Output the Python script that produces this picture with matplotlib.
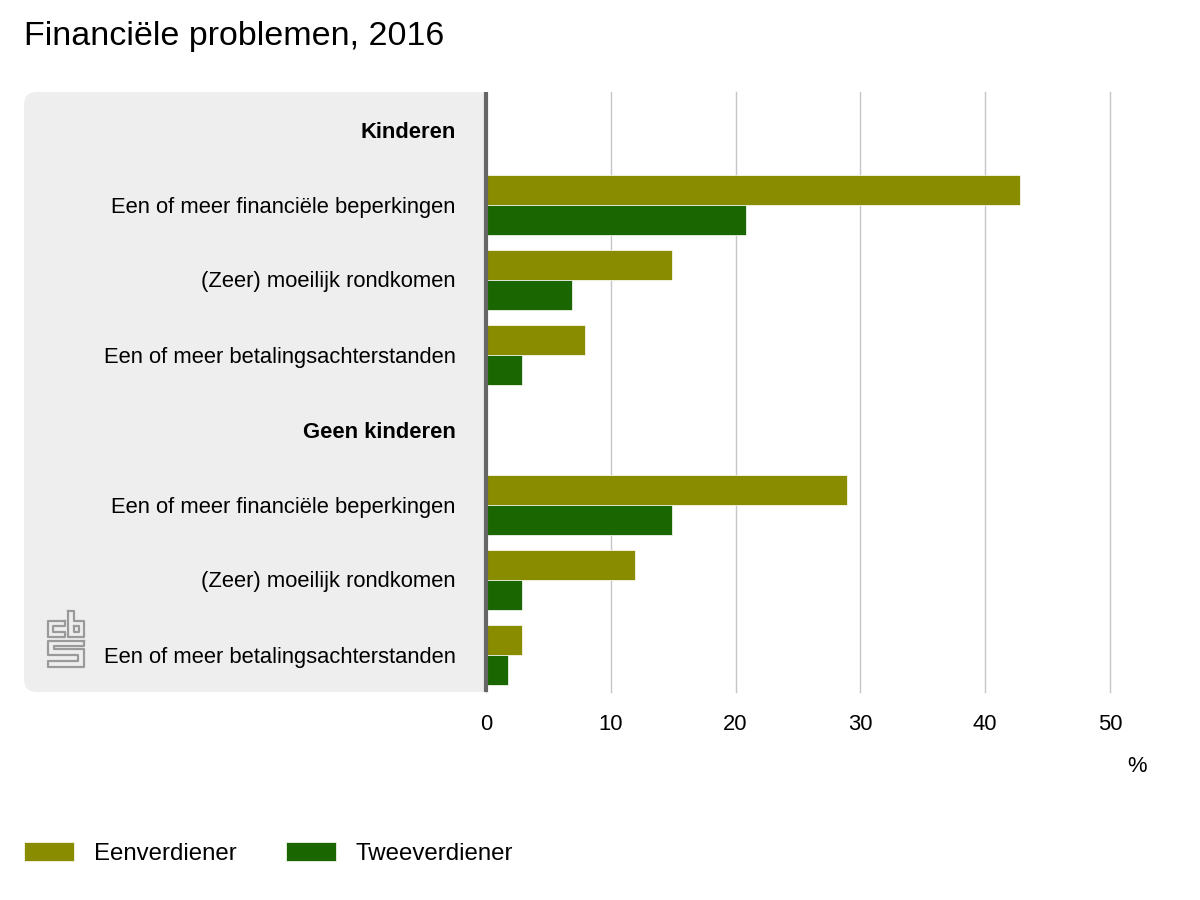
import numpy as np
import matplotlib.pyplot as plt
from matplotlib.lines import Line2D
from matplotlib.patches import FancyBboxPatch
from matplotlib.transforms import Affine2D

plt.rcParams["font.family"] = ["Liberation Sans", "DejaVu Sans"]
plt.rcParams["font.size"] = 15.8

labels = ["Kinderen", "Een of meer financiële beperkingen", "(Zeer) moeilijk rondkomen", "Een of meer betalingsachterstanden",
          "Geen kinderen", "Een of meer financiële beperkingen", "(Zeer) moeilijk rondkomen", "Een of meer betalingsachterstanden"]
eenverdiener = [0, 42.8, 14.9, 7.9, 0, 28.9, 11.9, 2.9]
tweeverdiener = [0, 20.8, 6.9, 2.9, 0, 14.9, 2.9, 1.8]
y = np.arange(len(labels))

fig = plt.figure(figsize=(12, 9), dpi=100)
pixels = Affine2D().scale(1 / 1200, -1 / 900).translate(0, 1) + fig.transFigure  # pixels from top left

# Grey panel behind the labels
fig.add_artist(FancyBboxPatch((24, 92), 470, 600, boxstyle="round,pad=0,rounding_size=13", transform=pixels,
                              facecolor="#eeeeee", edgecolor="none", zorder=-1))

plt.axes([486 / 1200, 208 / 900, 624 / 1200, 600 / 900])
plt.barh(y - 0.2, eenverdiener, height=0.4, color="#8a8c00", edgecolor="white", linewidth=0.5, label="Eenverdiener")
plt.barh(y + 0.2, tweeverdiener, height=0.4, color="#1a6600", edgecolor="white", linewidth=0.5, label="Tweeverdiener")
plt.xlim(0, 50)
plt.ylim(7.5, -0.5)
plt.xticks([0, 10, 20, 30, 40, 50])
plt.yticks(y, labels)
plt.grid(axis="x", color="#c6c6c6", linewidth=1, clip_on=False)
plt.gca().set_axisbelow(True)
plt.tick_params(axis="x", length=0, pad=16)
plt.tick_params(axis="y", length=0, pad=22)
for i in [0, 4]:
    plt.gca().get_yticklabels()[i].set_fontweight("bold")

for side in ["top", "right", "bottom"]:
    plt.gca().spines[side].set_visible(False)
plt.gca().spines["left"].set_color("#666666")
plt.gca().spines["left"].set_linewidth(3)
plt.gca().spines["left"].set_capstyle("butt")

plt.legend(loc="lower left", bbox_to_anchor=(24 / 1200, 35 / 900), bbox_transform=fig.transFigure, ncol=2,
           frameon=False, fontsize=17.3, borderpad=0, borderaxespad=0, handlelength=2.08, handleheight=0.85,
           handletextpad=0.83, columnspacing=2.04)

plt.figtext(24 / 1200, 1 - 37 / 900, "Financiële problemen, 2016", fontsize=24.5, va="center")
plt.figtext(1137 / 1200, 1 - 766 / 900, "%", ha="center", va="center")

# Logo
logo = [
    [(65, 621), (48, 621), (48, 637), (65, 637), (65, 632), (53, 632), (53, 626), (65, 626), (65, 621)],
    [(68, 611), (74, 611), (74, 621), (84, 621), (84, 637), (68, 637), (68, 611)],
    [(74, 626), (79, 626), (79, 632), (74, 632), (74, 626)],
    [(84, 641), (48, 641), (48, 655), (78, 655), (78, 661), (48, 661), (48, 667), (84, 667), (84, 649), (54, 649),
     (54, 646), (84, 646), (84, 641)],
]
for part in logo:
    xs, ys = zip(*part)
    fig.add_artist(Line2D(xs, ys, transform=pixels, color="#9a9a9a", linewidth=1.6))

plt.savefig("out.png", dpi=100)
